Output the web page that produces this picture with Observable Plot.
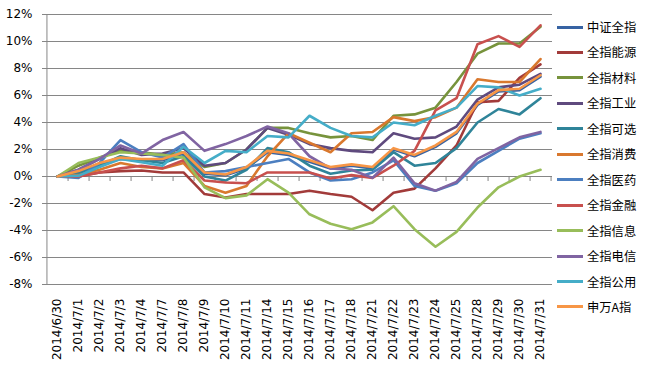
<!DOCTYPE html>
<html>
<head>
<meta charset="utf-8">
<script src="https://cdn.jsdelivr.net/npm/d3@7"></script>
<script src="https://cdn.jsdelivr.net/npm/@observablehq/plot@0.6"></script>
<style>
  html, body { margin: 0; padding: 0; background: #fff; }
  #wrap { position: relative; width: 648px; height: 372px; }
  #legend { position: absolute; left: 0; top: 0; }
  .item { position: absolute; left: 557px; height: 20px; display: flex; align-items: center; }
  .sw { width: 26px; height: 3px; margin-right: 4px; }
  .lb { font-family: "Noto Sans CJK SC", sans-serif; font-size: 12.3px; color: #000; white-space: nowrap; }
</style>
</head>
<body>
<div id="wrap"><div id="legend"></div></div>
<script>
const dates = ["2014/6/30","2014/7/1","2014/7/2","2014/7/3","2014/7/4","2014/7/7","2014/7/8","2014/7/9","2014/7/10","2014/7/11","2014/7/14","2014/7/15","2014/7/16","2014/7/17","2014/7/18","2014/7/21","2014/7/22","2014/7/23","2014/7/24","2014/7/25","2014/7/28","2014/7/29","2014/7/30","2014/7/31"];

const seriesNames = ["中证全指","全指能源","全指材料","全指工业","全指可选","全指消费","全指医药","全指金融","全指信息","全指电信","全指公用","申万A指"];
const colors = ["#3763A3","#A23B3A","#77933C","#5F4A7E","#2F8499","#D9782E","#4C7FC0","#C8504E","#98BD5A","#8064A2","#45ADC8","#F79646"];

const zzqz = [0, 0.3, 0.9, 1.3, 1.2, 1.2, 1.7, 0.2, 0.1, 0.6, 1.8, 1.6, 1.1, 0.6, 0.8, 0.6, 2.0, 1.5, 2.2, 3.2, 5.3, 6.3, 6.4, 7.4];
const nengyuan = [0, 0.0, 0.3, 0.4, 0.45, 0.3, 0.3, -1.3, -1.55, -1.3, -1.3, -1.3, -1.05, -1.3, -1.5, -2.5, -1.2, -0.9, 0.6, 2.3, 5.5, 5.6, 7.3, 8.3];
const cailiao = [0, 0.8, 1.4, 1.9, 1.8, 1.6, 1.8, 0.7, 1.0, 2.0, 3.6, 3.6, 3.2, 2.9, 3.0, 2.7, 4.5, 4.6, 5.1, 7.0, 9.1, 9.85, 9.85, 11.1];
const gongye = [0, 0.5, 1.3, 2.1, 1.6, 1.7, 2.1, 0.8, 1.0, 2.0, 3.6, 3.1, 2.4, 2.1, 1.9, 1.8, 3.2, 2.8, 2.9, 3.7, 5.7, 6.6, 6.8, 7.6];
const kexuan = [0, 0.2, 0.8, 1.5, 1.2, 1.0, 1.5, 0.0, -0.3, 0.5, 2.1, 1.8, 0.8, 0.2, 0.45, 0.5, 1.8, 0.8, 1.0, 2.1, 4.0, 5.0, 4.6, 5.8];
const xiaofei = [0, 0.1, 0.5, 1.0, 0.7, 0.6, 1.0, -0.7, -1.2, -0.7, 1.5, 3.2, 2.5, 1.8, 3.2, 3.3, 4.4, 4.1, 4.4, 5.1, 7.2, 7.0, 7.0, 8.7];
const yiyao = [0, -0.1, 1.0, 2.7, 1.8, 1.4, 2.4, 0.3, 0.4, 0.7, 1.0, 1.3, 0.3, -0.3, -0.2, 0.3, 1.2, -0.7, -1.05, -0.5, 1.0, 1.9, 2.8, 3.2];
const jinrong = [0, 0.0, 0.3, 0.6, 0.8, 0.6, 1.2, -0.3, -0.45, -0.5, 0.3, 0.3, 0.3, -0.15, 0.1, -0.1, 0.8, 1.9, 4.9, 5.8, 9.8, 10.4, 9.6, 11.2];
const xinxi = [0, 1.0, 1.4, 1.8, 1.7, 1.6, 1.4, -0.8, -1.6, -1.4, -0.2, -1.2, -2.8, -3.5, -3.9, -3.4, -2.2, -3.9, -5.2, -4.1, -2.3, -0.8, 0.0, 0.5];
const dianxin = [0, 0.5, 1.3, 2.3, 1.7, 2.7, 3.3, 1.9, 2.4, 3.0, 3.7, 3.2, 1.5, 0.6, 0.5, -0.1, 1.4, -0.5, -1.05, -0.4, 1.3, 2.1, 2.9, 3.3];
const gongyong = [0, 0.05, 0.7, 1.3, 1.05, 0.8, 2.2, 1.0, 1.9, 1.8, 3.0, 2.9, 4.5, 3.6, 3.0, 2.9, 4.0, 3.8, 4.5, 5.1, 6.7, 6.6, 6.0, 6.5];
const swag = [0, 0.4, 1.0, 1.4, 1.3, 1.3, 1.8, 0.3, 0.15, 0.7, 1.9, 1.7, 1.2, 0.7, 0.9, 0.7, 2.1, 1.6, 2.3, 3.3, 5.4, 6.4, 6.5, 7.5];

const yTicks = [-8, -6, -4, -2, 0, 2, 4, 6, 8, 10, 12];

const allSeries = [zzqz, nengyuan, cailiao, gongye, kexuan, xiaofei, yiyao, jinrong, xinxi, dianxin, gongyong, swag];
const rows = [];
allSeries.forEach((vals, si) => {
  vals.forEach((v, i) => rows.push({series: seriesNames[si], date: dates[i], value: v}));
});

const W = 648, H = 372, mL = 45, mR = 96, mT = 14, mB = 88;
const step = (W - mL - mR) / dates.length;

const chart = Plot.plot({
  width: W,
  height: H,
  marginLeft: mL,
  marginRight: mR,
  marginTop: mT,
  marginBottom: mB,
  style: {fontFamily: "DejaVu Sans, sans-serif", fontSize: "12px", color: "#000", background: "#fff"},
  x: {type: "point", domain: dates, padding: 0.5, label: null},
  y: {domain: [-8, 12], label: null},
  color: {domain: seriesNames, range: colors},
  marks: [
    Plot.gridY(yTicks, {stroke: "#868686", strokeOpacity: 1, strokeWidth: 1}),
    Plot.ruleX([dates[0]], {dx: -step / 2, y1: -8, y2: 12, stroke: "#868686", strokeWidth: 1}),
    Plot.ruleX(dates, {dx: step / 2, y1: 0, y2: 0, insetBottom: -5, stroke: "#868686"}),
    Plot.axisY(yTicks, {tickFormat: d => d + "%", tickSize: 3, tickPadding: 10, stroke: "#868686", fontSize: 12, label: null}),
    Plot.axisX({tickRotate: -90, tickSize: 0, tickPadding: 14, fontSize: 12, label: null}),
    Plot.line(rows, {x: "date", y: "value", z: "series", stroke: "series", strokeWidth: 2.6, strokeLinejoin: "round", strokeLinecap: "round"})
  ]
});
document.getElementById("wrap").prepend(chart);

const legend = document.getElementById("legend");
seriesNames.forEach((name, i) => {
  const it = document.createElement("div");
  it.className = "item";
  it.style.top = (27 + i * 25.45 - 10) + "px";
  const sw = document.createElement("div");
  sw.className = "sw";
  sw.style.background = colors[i];
  const lb = document.createElement("span");
  lb.className = "lb";
  lb.textContent = name;
  it.appendChild(sw);
  it.appendChild(lb);
  legend.appendChild(it);
});
</script>
</body>
</html>
